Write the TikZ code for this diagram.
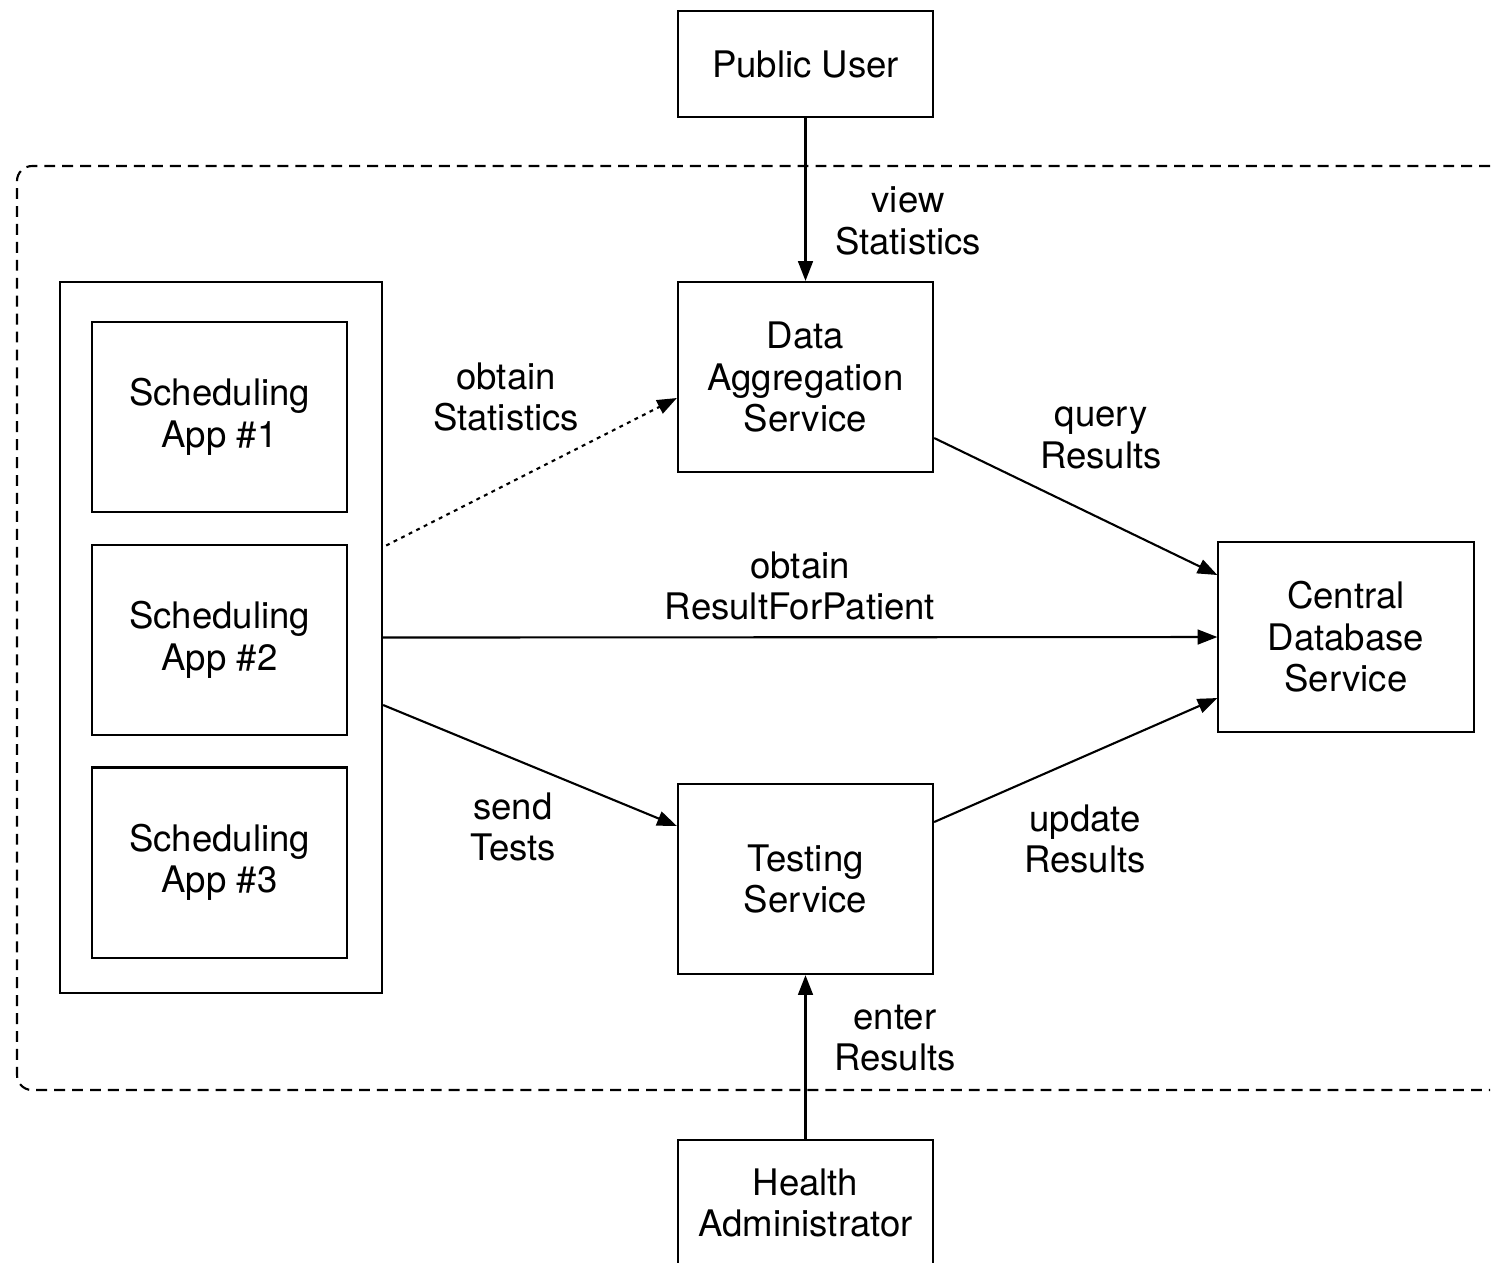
\documentclass[tikz,border=0pt]{standalone}
\usepackage{fontspec}
\setmainfont{TeX Gyre Heros}
\usetikzlibrary{arrows.meta,calc}

\tikzset{
  box/.style={draw, line width=0.6pt, align=center, minimum width=2.55cm, minimum height=1.9cm, inner sep=0pt},
  lbl/.style={align=center, inner sep=0pt},
  arr/.style={-{Triangle[length=5.6pt,width=4.2pt]}, line width=0.6pt},
}

\begin{document}
\begin{tikzpicture}[x=0.01cm, y=-0.01cm, font=\fontsize{10.4}{11.8}\selectfont]
\clip (0,0) rectangle (1494,1262);

\draw[line width=0.6pt, dash pattern=on 3.1pt off 2pt, rounded corners=0.15cm] (1490,166) -- (17,166) -- (17,1090) -- (1490,1090);

\node[box, minimum height=1.06cm] (pub) at (805.5,64) {Public User};

\node[box] (agg) at (805.5,377) {Data\\Aggregation\\Service};

\node[box] (db) at (1346,637) {Central\\Database\\Service};

\node[box] (test) at (805.5,879) {Testing\\Service};

\node[box, minimum height=1.26cm] (hadm) at (805.5,1203) {Health\\Administrator};

\node[draw, line width=0.6pt, minimum width=3.22cm, minimum height=7.11cm] (apps) at (221,637.5) {};

\node[box] (app1) at (219.5,417) {Scheduling\\App \#1};
\node[box] (app2) at (219.5,640) {Scheduling\\App \#2};
\node[box] (app3) at (219.5,862.5) {Scheduling\\App \#3};


\draw[arr] (pub) -- (agg);
\node[lbl] (lview) at (908,221) {view\\Statistics};

\draw[arr, dash pattern=on 1.1pt off 1.3pt] ($(apps.east)+(3,-92)$) -- ($(agg.west)+(0,21)$);
\node[lbl] (lobst) at (506,397) {obtain\\Statistics};

\draw[arr] ($(agg.east)+(0,61)$) -- ($(db.west)+(0,-62)$);
\node[lbl] (lquery) at (1101,438) {query\\Results};

\draw[arr] (apps.east) -- (db.west);
\node[lbl] (lobres) at (800,586) {obtain\\ResultForPatient};

\draw[arr] ($(apps.east)+(0,67.5)$) -- ($(test.west)+(0,-53)$);
\node[lbl] (lsend) at (513,827) {send\\Tests};

\draw[arr] ($(test.east)+(0,-57)$) -- ($(db.west)+(0,61)$);
\node[lbl] (lupd) at (1085,839) {update\\Results};

\draw[arr] (hadm) -- (test);
\node[lbl] (lenter) at (895,1038) {enter\\Results};
\end{tikzpicture}
\end{document}
